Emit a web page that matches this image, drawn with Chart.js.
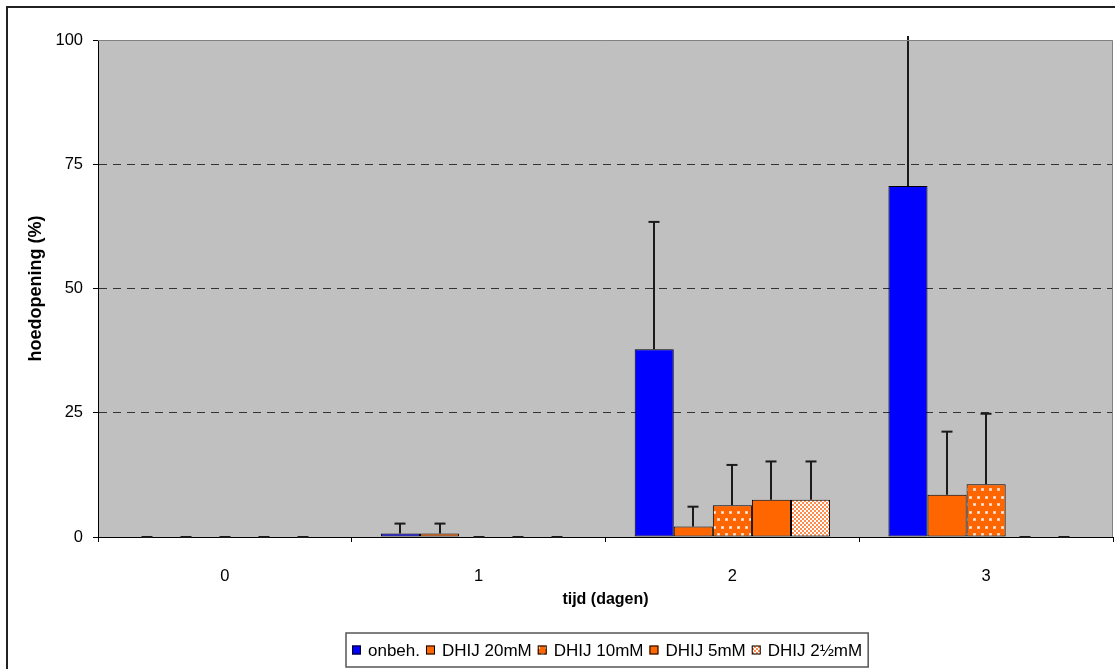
<!DOCTYPE html>
<html><head><meta charset="utf-8">
<script src="https://cdn.jsdelivr.net/npm/chart.js@4"></script>
<style>html,body{margin:0;padding:0;background:#fff}#wrap{width:1115px;height:669px;position:relative}</style>
</head><body><div id="wrap"><canvas id="c" width="1115" height="669"></canvas></div>
<script>
const categories = ['0', '1', '2', '3'];
const seriesNames = ['onbeh.', 'DHIJ 20mM', 'DHIJ 10mM', 'DHIJ 5mM', 'DHIJ 2½mM'];
const onbeh     = [0, 0.7, 37.8, 70.6];
const dhij20    = [0, 0.7, 2.1, 8.5];
const dhij10    = [0, 0, 6.4, 10.6];
const dhij5     = [0, 0, 7.5, 0];
const dhij2half = [0, 0, 7.5, 0];
const errOnbeh     = [0, 2.0, 25.6, 45];
const err20        = [0, 2.0, 4.0, 12.7];
const err10        = [0, 0, 8.1, 14.2];
const err5         = [0, 0, 7.7, 0];
const err2half     = [0, 0, 7.7, 0];
const yTicks = [0, 25, 50, 75, 100];

const FONT = "'Liberation Sans', Arial, sans-serif";
const ORANGE = '#FF6600';
const BLUE = '#0000FF';

function dotPattern() {
  const c = document.createElement('canvas'); c.width = 8; c.height = 15;
  const g = c.getContext('2d');
  g.fillStyle = ORANGE; g.fillRect(0, 0, 8, 15);
  g.fillStyle = '#FFC8A8';
  g.fillRect(1, 1, 3, 3); g.fillRect(5, 8, 3, 3);
  g.fillStyle = '#FFFFFF';
  g.fillRect(2, 2, 1, 1); g.fillRect(6, 9, 1, 1);
  return document.getElementById('c').getContext('2d').createPattern(c, 'repeat');
}
function checkPattern() {
  const c = document.createElement('canvas'); c.width = 4; c.height = 4;
  const g = c.getContext('2d');
  g.fillStyle = '#FFFFFF'; g.fillRect(0, 0, 4, 4);
  g.fillStyle = '#FF8C4C';
  g.fillRect(0, 0, 2, 2); g.fillRect(2, 2, 2, 2);
  return document.getElementById('c').getContext('2d').createPattern(c, 'repeat');
}
const fills = [BLUE, ORANGE, dotPattern(), ORANGE, checkPattern()];
const values = [onbeh, dhij20, dhij10, dhij5, dhij2half];
const errors = [errOnbeh, err20, err10, err5, err2half];

const bgPlugin = {
  id: 'bg',
  beforeDraw(chart) {
    const {ctx, chartArea: a} = chart;
    ctx.save();
    ctx.fillStyle = '#FFFFFF'; ctx.fillRect(0, 0, chart.width, chart.height);
    ctx.fillStyle = '#C0C0C0'; ctx.fillRect(a.left, a.top, a.right - a.left, a.bottom - a.top);
    ctx.restore();
  },
  afterDraw(chart) {
    const {ctx, chartArea: a} = chart;
    ctx.save();
    ctx.strokeStyle = '#808080'; ctx.lineWidth = 1;
    ctx.beginPath();
    ctx.moveTo(a.left, a.top + 0.5); ctx.lineTo(a.right - 0.5, a.top + 0.5); ctx.lineTo(a.right - 0.5, a.bottom);
    ctx.stroke();
    ctx.strokeStyle = '#222'; ctx.lineWidth = 2;
    ctx.strokeRect(7, 7, chart.width + 10, chart.height + 10);
    ctx.restore();
  }
};

const errPlugin = {
  id: 'err',
  afterDatasetsDraw(chart) {
    const {ctx, chartArea: a} = chart;
    const ys = chart.scales.y;
    ctx.save();
    ctx.beginPath(); ctx.rect(a.left, a.top - 4, a.right - a.left, a.bottom - a.top + 6); ctx.clip();
    ctx.strokeStyle = '#1a1a1a'; ctx.lineWidth = 2;
    chart.data.datasets.forEach((ds, i) => {
      const meta = chart.getDatasetMeta(i);
      meta.data.forEach((el, j) => {
        const v = ds.data[j], e = ds.err[j];
        const yTop = ys.getPixelForValue(v + e);
        const x = Math.round(el.x);
        ctx.beginPath();
        ctx.moveTo(x, el.y); ctx.lineTo(x, yTop);
        ctx.stroke();
        if (yTop >= a.top - 4) {
          ctx.beginPath();
          ctx.moveTo(x - 5.5, yTop); ctx.lineTo(x + 5.5, yTop);
          ctx.stroke();
        }
      });
    });
    ctx.restore();
  }
};

const legendPlugin = {
  id: 'legendBox',
  afterDraw(chart) {
    const {ctx} = chart;
    ctx.save();
    ctx.font = '17px ' + FONT;
    const sq = 9, gapSq = 7, gapItem = 6, padX = 6;
    let total = padX * 2;
    const widths = seriesNames.map(n => ctx.measureText(n).width);
    widths.forEach((w, i) => { total += sq + gapSq + w + (i < widths.length - 1 ? gapItem : 0); });
    const top = 633, h = 34;
    const left = 346;
    ctx.fillStyle = '#FFFFFF'; ctx.fillRect(left, top, total, h);
    ctx.strokeStyle = '#555'; ctx.lineWidth = 1.5;
    ctx.strokeRect(left, top, total, h);
    let x = left + padX;
    const cy = top + h / 2;
    seriesNames.forEach((n, i) => {
      ctx.fillStyle = fills[i];
      ctx.fillRect(x, cy - sq / 2, sq, sq);
      ctx.strokeStyle = '#000'; ctx.lineWidth = 1;
      ctx.strokeRect(x + 0.5, cy - sq / 2 + 0.5, sq - 1, sq - 1);
      x += sq + gapSq;
      ctx.fillStyle = '#000'; ctx.textBaseline = 'middle'; ctx.textAlign = 'left';
      ctx.fillText(n, x, cy + 1);
      x += widths[i] + gapItem;
    });
    ctx.restore();
  }
};

new Chart(document.getElementById('c'), {
  type: 'bar',
  data: {
    labels: categories,
    datasets: seriesNames.map((n, i) => ({
      label: n,
      data: values[i],
      err: errors[i],
      backgroundColor: fills[i],
      borderColor: '#000',
      borderWidth: 1,
      borderSkipped: false,
      barPercentage: 1,
      categoryPercentage: 0.77
    }))
  },
  options: {
    responsive: false,
    animation: false,
    events: [],
    layout: {padding: {top: 40, right: 2, left: 0, bottom: 0}},
    plugins: {legend: {display: false}, tooltip: {enabled: false}},
    scales: {
      x: {
        grid: {display: true, offset: true, drawOnChartArea: false, color: '#000', tickColor: '#000', tickLength: 5},
        border: {color: '#000', width: 1},
        ticks: {color: '#000', font: {family: FONT, size: 16.5}, padding: 25},
        title: {display: true, text: 'tijd (dagen)', color: '#000', font: {family: FONT, size: 16, weight: 'bold'}, padding: {top: 0, bottom: 60}},
        afterFit(s) { s.height = 132; }
      },
      y: {
        min: 0, max: 100,
        afterBuildTicks(s) { s.ticks = yTicks.map(v => ({value: v})); },
        grid: {
          color: c => (c.tick && (c.tick.value === 0 || c.tick.value === 100)) ? 'rgba(0,0,0,0)' : '#333',
          tickColor: '#000', tickLength: 5, tickBorderDash: []
        },
        border: {color: '#000', width: 1, dash: [8, 6]},
        ticks: {color: '#000', font: {family: FONT, size: 16.5}, padding: 10},
        title: {display: true, text: 'hoedopening (%)', color: '#000', font: {family: FONT, size: 18, weight: 'bold'}, padding: {top: 25, bottom: 0}},
        afterFit(s) { s.width = 98; }
      }
    }
  },
  plugins: [bgPlugin, errPlugin, legendPlugin]
});
</script></body></html>
